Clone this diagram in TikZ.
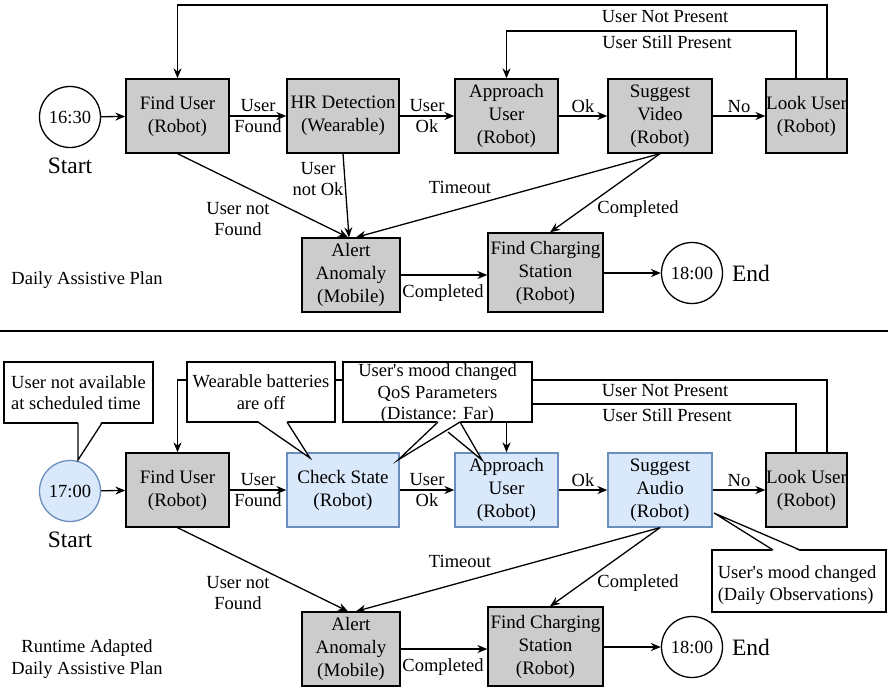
\documentclass[tikz,border=0pt]{standalone}
\usepackage{fontspec}
\setmainfont{Liberation Serif}
\usetikzlibrary{arrows.meta}
\definecolor{boxgray}{RGB}{204,204,204}
\definecolor{lblue}{RGB}{218,232,252}
\definecolor{dblue}{RGB}{108,142,191}
\begin{document}
\begin{tikzpicture}[x=1pt,y=-1pt,
 every node/.style={font=\fontsize{19}{23}\selectfont, align=center},
 grayb/.style={draw, fill=boxgray, line width=1.3pt, inner sep=0pt},
 blueb/.style={draw=dblue, fill=lblue, line width=1.3pt, inner sep=0pt},
 circ/.style={circle, draw, line width=1.3pt, minimum size=61pt, inner sep=0pt, font=\fontsize{18.5}{22}\selectfont},
 arr/.style={-{Stealth[length=10pt,width=8pt]}, line width=1.3pt},
 ln/.style={line width=1.3pt},
 lbl/.style={font=\fontsize{18.5}{21.5}\selectfont, inner sep=0pt},
 big/.style={font=\fontsize{23.5}{28}\selectfont, inner sep=0pt},
 callout/.style={draw, fill=white, line width=1.3pt, inner sep=0pt},
]
\useasboundingbox (0,0) rectangle (888,687);

% ================= TOP =================
\node[circ] (st1) at (70,117) {16:30};
\node[big] (stl1) at (70,166) {Start};
\node[grayb, minimum width=103pt, minimum height=74pt] (fu1) at (177.5,116) {Find User\\(Robot)};
\node[grayb, minimum width=112pt, minimum height=74pt] (hr1) at (343,116) {HR Detection\\(Wearable)};
\node[grayb, minimum width=103pt, minimum height=74pt] (ap1) at (506.5,116) {Approach\\User\\(Robot)};
\node[grayb, minimum width=104pt, minimum height=74pt] (sv1) at (660,116) {Suggest\\Video\\(Robot)};
\node[grayb, minimum width=81pt, minimum height=74pt] (lu1) at (806.5,116) {Look User\\(Robot)};
\node[grayb, minimum width=98pt, minimum height=74pt] (aa1) at (351,275) {Alert\\Anomaly\\(Mobile)};
\node[grayb, minimum width=115pt, minimum height=79pt] (fc1) at (545.5,272.5) {Find Charging\\Station\\(Robot)};
\node[circ] (en1) at (692,273) {18:00};
\node[big] (enl1) at (751,273) {End};
\node[lbl] (pl1) at (87,280) {Daily Assistive Plan};

\draw[arr] (st1) -- (fu1);
\draw[arr] (fu1) -- (hr1) node[lbl, midway] {User\\Found};
\draw[arr] (hr1) -- (ap1) node[lbl, midway] {User\\Ok};
\draw[arr] (ap1) -- (sv1) node[lbl, midway, above=3pt] {Ok};
\draw[arr] (sv1) -- (lu1) node[lbl, midway, above=3pt] {No};
\coordinate (t1) at (827,5);
\coordinate (t2) at (796,31);
\draw[arr] (t1 |- lu1.north) -- (t1) -| (fu1.north);
\draw[arr] (t2 |- lu1.north) -- (t2) -| (ap1.north);
\node[lbl] (lnp1) at (665,17) {User Not Present};
\node[lbl] (lsp1) at (667,42) {User Still Present};
\draw[arr] (fu1.south) -- ([xshift=-3pt]aa1.north);
\draw[arr] (hr1.south) -- ([xshift=-2pt]aa1.north);
\draw[arr] (sv1.south) -- ([xshift=5pt]aa1.north);
\draw[arr] (sv1.south) -- ([xshift=4.5pt]fc1.north);
\node[lbl] (unf1) at (238,219) {User not\\Found};
\node[lbl] (uno1) at (318,179) {User\\not Ok};
\node[lbl] (to1) at (460,187) {Timeout};
\node[lbl] (cp1) at (638,209) {Completed};
\draw[arr] (aa1.east) -- (aa1.east -| fc1.west);
\node[lbl] (cp1b) at (443,293) {Completed};
\draw[arr] (fc1.east |- en1.west) -- (en1.west);

\draw[ln] (0,331) -- (888,331);

% ================= BOTTOM =================
\node[circ, draw=dblue, fill=lblue] (st2) at (70,491) {17:00};
\node[big] (stl2) at (70,540) {Start};
\node[grayb, minimum width=103pt, minimum height=74pt] (fu2) at (177.5,490) {Find User\\(Robot)};
\node[blueb, minimum width=112pt, minimum height=74pt] (cs2) at (343,490) {Check State\\(Robot)};
\node[blueb, minimum width=103pt, minimum height=74pt] (ap2) at (506.5,490) {Approach\\User\\(Robot)};
\node[blueb, minimum width=104pt, minimum height=74pt] (sa2) at (660,490) {Suggest\\Audio\\(Robot)};
\node[grayb, minimum width=81pt, minimum height=74pt] (lu2) at (806.5,490) {Look User\\(Robot)};
\node[grayb, minimum width=98pt, minimum height=74pt] (aa2) at (351,649) {Alert\\Anomaly\\(Mobile)};
\node[grayb, minimum width=115pt, minimum height=79pt] (fc2) at (545.5,646.5) {Find Charging\\Station\\(Robot)};
\node[circ] (en2) at (692,647) {18:00};
\node[big] (enl2) at (751,647) {End};
\node[lbl] (pl2) at (87,659) {Runtime Adapted\\Daily Assistive Plan};

\draw[arr] (st2) -- (fu2);
\draw[arr] (fu2) -- (cs2) node[lbl, midway] {User\\Found};
\draw[arr] (cs2) -- (ap2) node[lbl, midway] {User\\Ok};
\draw[arr] (ap2) -- (sa2) node[lbl, midway, above=3pt] {Ok};
\draw[arr] (sa2) -- (lu2) node[lbl, midway, above=3pt] {No};
\coordinate (b1) at (827,380);
\coordinate (b2) at (796,404);
\draw[arr] (b1 |- lu2.north) -- (b1) -| (fu2.north);
\draw[arr] (b2 |- lu2.north) -- (b2) -| (ap2.north);
\node[lbl] (lnp2) at (665,391) {User Not Present};
\node[lbl] (lsp2) at (667,415) {User Still Present};
\draw[arr] (fu2.south) -- ([xshift=-3pt]aa2.north);
\draw[arr] (sa2.south) -- ([xshift=5pt]aa2.north);
\draw[arr] (sa2.south) -- ([xshift=4.5pt]fc2.north);
\node[lbl] (unf2) at (238,593) {User not\\Found};
\node[lbl] (to2) at (460,561) {Timeout};
\node[lbl] (cp2) at (638,583) {Completed};
\draw[arr] (aa2.east) -- (aa2.east -| fc2.west);
\node[lbl] (cp2b) at (443,667) {Completed};
\draw[arr] (fc2.east |- en2.west) -- (en2.west);

% ---- callouts ----
\node[callout, minimum width=149pt, minimum height=61pt] (c1) at (78.5,392.5) {};
\node[lbl, align=left] (c1t) at (78.5,392.5) {User not available\\at scheduled time};
\fill[white] (78,421) -- (78,460) -- (102,421) -- cycle;
\draw[ln] (78,423) -- (78,460) -- (102,423);

\node[callout, minimum width=148pt, minimum height=60pt] (c2) at (261,392) {};
\node[lbl] (c2t) at (261,392) {Wearable batteries\\are off};
\fill[white] (258,421) -- (310,458) -- (287,421) -- cycle;
\draw[ln] (258,422) -- (310,458) -- (287,422);

\node[callout, minimum width=189pt, minimum height=60pt] (c3) at (437.5,392) {};
\node[lbl] (c3t) at (437.5,394) {User\textquotesingle s mood changed\\QoS Parameters\\(Distance: Far)};
\fill[white] (438,421) -- (398,460) -- (448,432) -- (482,460) -- (460,421) -- cycle;
\draw[ln] (438,422) -- (398,460) -- (460,422);
\draw[ln] (448,432) -- (482,460) -- (460,422);

\node[callout, minimum width=174pt, minimum height=62pt] (c4) at (799,581) {};
\node[lbl, align=left] (c4t) at (797,585) {User\textquotesingle s mood changed\\(Daily Observations)};
\fill[white] (773,551) -- (714,513) -- (800,551) -- cycle;
\draw[ln] (773,550) -- (714,513) -- (800,550);
\end{tikzpicture}
\end{document}
